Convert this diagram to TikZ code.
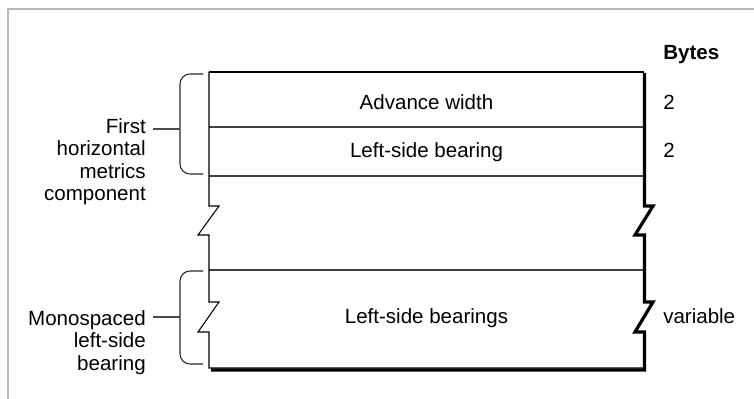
\documentclass[tikz,border=0pt]{standalone}
\usepackage{fontspec}
\setmainfont{Liberation Sans}
\usetikzlibrary{positioning}
\newcommand{\figfont}{\fontsize{15.4}{16.9}\selectfont}

\begin{document}
\begin{tikzpicture}[x=0.75pt,y=-0.75pt,
  lbl/.style={font=\figfont, inner sep=0pt},
  rowline/.style={black!75, line width=0.8pt},
  edgeline/.style={line width=0.8pt, line join=miter},
  shadowline/.style={line width=2.4pt, line join=miter},
  brace/.style={black!85, line width=0.8pt, rounded corners=7.5pt}]
  \useasboundingbox (0,0) rectangle (754,399);
  % Frame
  \draw[gray!55, line width=1.2pt] (8,399) -- (8,9) -- (754,9);
  % Box: top and row lines
  \draw[edgeline] (209,72) -- (644,72);
  \draw[rowline] (209,127) -- (644,127);
  \draw[rowline] (209,176) -- (644,176);
  \draw[rowline] (209,270) -- (644,270);
  % Left edge with breaks
  \draw[edgeline] (209,72) -- (209,206) -- (219,206) -- (198,235) -- (209,235)
    -- (209,302) -- (219,302) -- (198,332) -- (209,332) -- (209,368) -- (644,368);
  % Right edge and bottom (shadow)
  \draw[shadowline] (644.5,73) -- (644.5,206) -- (653,206) -- (635,235) -- (644.5,235)
    -- (644.5,302) -- (653,302) -- (635,332) -- (644.5,332) -- (644.5,370) -- (211,370);
  % Field names
  \node[lbl, anchor=base] (advw) at (426.5,110) {Advance width};
  \node[lbl, anchor=base] (lsb) at (426.5,158) {Left-side bearing};
  \node[lbl, anchor=base] (lsbs) at (426.5,324) {Left-side bearings};
  % Sizes
  \node[lbl, font=\figfont\bfseries, anchor=base west] (bytes) at (663,60) {Bytes};
  \node[lbl, anchor=base west] (advsize) at (663,110) {2};
  \node[lbl, anchor=base west] (lsbsize) at (663,158) {2};
  \node[lbl, anchor=base west] (varsize) at (663,324) {variable};
  % Braces
  \draw[brace] (203,74) -- (180,74) -- (180,174) -- (203,174);
  \coordinate (firstmid) at (180,129);
  \draw[brace] (203,271) -- (180,271) -- (180,364) -- (203,364);
  \coordinate (monomid) at (180,317);
  % Brace labels
  \node[lbl, align=right, anchor=north east] (firstlbl) at (146,118)
    {First\\horizontal\\metrics\\component};
  \node[lbl, align=right, anchor=north east] (monolbl) at (146,310)
    {Monospaced\\left-side\\bearing};
  \draw[black!70, line width=0.8pt] (firstmid) -- ++(-27,0);
  \draw[black!70, line width=0.8pt] (monomid) -- ++(-27,0);
\end{tikzpicture}
\end{document}
